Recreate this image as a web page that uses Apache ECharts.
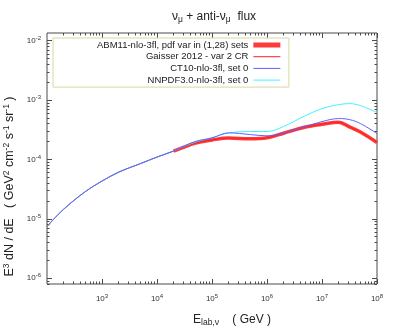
<!DOCTYPE html>
<html><head><meta charset="utf-8">
<script src="https://cdn.jsdelivr.net/npm/echarts@6/dist/echarts.min.js"></script>
<style>html,body{margin:0;padding:0;background:#fff}#c{width:395px;height:335px}</style>
</head><body><div id="c"></div>
<script>
// ---- data ----
const energyGeV = [1e2, 2e2, 5e2, 1e3, 2e3, 5e3, 1e4, 2e4, 5e4, 1e5, 2e5, 5e5, 1e6, 2e6, 5e6, 1e7, 2e7, 3.16e7, 5e7, 1e8];
const gaisser2012 = [7.4e-6, 1.445e-5, 2.88e-5, 4.32e-5, 6.10e-5, 8.51e-5, 1.096e-4, 1.38e-4, 1.89e-4, 2.13e-4, 2.30e-4, 2.23e-4, 2.32e-4, 2.77e-4, 3.52e-4, 3.92e-4, 4.24e-4, 3.55e-4, 2.90e-4, 1.93e-4];
const abm11 = [null, null, null, null, null, null, null, 1.38e-4, 1.89e-4, 2.13e-4, 2.30e-4, 2.23e-4, 2.32e-4, 2.77e-4, 3.52e-4, 3.92e-4, 4.24e-4, 3.55e-4, 2.90e-4, 1.93e-4];
const ct10 = [7.5e-6, 1.45e-5, 2.89e-5, 4.33e-5, 6.12e-5, 8.53e-5, 1.10e-4, 1.39e-4, 2.01e-4, 2.30e-4, 2.81e-4, 2.63e-4, 2.50e-4, 2.79e-4, 3.59e-4, 4.35e-4, 4.89e-4, 4.70e-4, 4.03e-4, 2.74e-4];
const nnpdf30 = [7.5e-6, 1.45e-5, 2.89e-5, 4.33e-5, 6.12e-5, 8.53e-5, 1.10e-4, 1.40e-4, 1.97e-4, 2.34e-4, 2.79e-4, 2.96e-4, 2.96e-4, 3.59e-4, 5.48e-4, 7.19e-4, 8.39e-4, 8.73e-4, 8.09e-4, 6.17e-4];
const seriesNames = ['ABM11-nlo-3fl, pdf var in (1,28) sets', 'Gaisser 2012 - var 2 CR', 'CT10-nlo-3fl, set 0', 'NNPDF3.0-nlo-3fl, set 0'];
const xTickValues = [1e3, 1e4, 1e5, 1e6, 1e7, 1e8];
const yTickValues = [1e-6, 1e-5, 1e-4, 1e-3, 1e-2];

// ---- helpers ----
const FONT = 'Liberation Sans, Arial, sans-serif';
function pairs(ys) { return energyGeV.map((e, i) => [e, ys[i]]); }
function minorTicks(k0, k1) { const out = []; for (let k = k0; k <= k1; k++) for (let m = 2; m <= 9; m++) out.push(m * Math.pow(10, k)); return out; }
const xMinor = minorTicks(2, 7);
const yMinor = minorTicks(-7, -2).filter(v => v >= 8e-7 && v <= 1.35e-2);
const tickColor = '#4a4a4a';
const labelRich = { b: { fontSize: 8, color: '#333', fontFamily: FONT, lineHeight: 11 }, s: { fontSize: 6, color: '#333', fontFamily: FONT, lineHeight: 6, verticalAlign: 'top' } };
function pow10Label(v) { return '{b|10}{s|' + Math.round(Math.log10(v)) + '}'; }

function xAx(pos, vals, len, labels) {
  return { type: 'log', logBase: 10, min: 100, max: 1e8, position: pos, gridIndex: 0,
    axisLine: { show: false }, splitLine: { show: false },
    axisTick: { show: true, inside: true, length: len, customValues: vals, lineStyle: { color: tickColor, width: 1 } },
    axisLabel: labels ? { show: true, customValues: xTickValues, formatter: pow10Label, rich: labelRich, margin: 9 } : { show: false } };
}
function yAx(pos, vals, len, labels) {
  return { type: 'log', logBase: 10, min: 8e-7, max: 1.35e-2, position: pos, gridIndex: 0,
    axisLine: { show: false }, splitLine: { show: false },
    axisTick: { show: true, inside: true, length: len, customValues: vals, lineStyle: { color: tickColor, width: 1 } },
    axisLabel: labels ? { show: true, customValues: yTickValues, formatter: pow10Label, rich: labelRich, margin: 6 } : { show: false } };
}

const xMain = xAx('bottom', xTickValues, 5, true);
xMain.name = '{b|E}{s|lab,ν}{b|    ( GeV )}';
xMain.nameLocation = 'middle';
xMain.nameGap = 29;
xMain.nameTextStyle = { padding: [0, 0, 0, 40], rich: { b: { fontSize: 12, color: '#222', fontFamily: FONT, lineHeight: 14 }, s: { fontSize: 8.5, color: '#222', fontFamily: FONT, lineHeight: 8, verticalAlign: 'bottom' } } };

const yMain = yAx('left', yTickValues, 5, true);
yMain.name = '{b|E}{p|3}{b| dN / dE   ( GeV}{p|2}{b| cm}{p|-2}{b| s}{p|-1}{b| sr}{p|-1}{b| )}';
yMain.nameLocation = 'middle';
yMain.nameGap = 27;
yMain.nameTextStyle = { padding: [0, 56, 0, 0], rich: { b: { fontSize: 12.5, color: '#222', fontFamily: FONT, lineHeight: 14 }, p: { fontSize: 8.5, color: '#222', fontFamily: FONT, lineHeight: 7, verticalAlign: 'top' } } };

const chart = echarts.init(document.getElementById('c'), null, { renderer: 'canvas' });
chart.setOption({
  animation: false,
  backgroundColor: '#fff',
  title: {
    text: '{t|ν}{u|μ}{t| + anti-ν}{u|μ}{t|  flux}',
    left: 209, top: 4, textAlign: 'center',
    textStyle: { fontWeight: 'normal', rich: { t: { fontSize: 12, fontWeight: 'normal', color: '#222', fontFamily: FONT, lineHeight: 15 }, u: { fontSize: 8.5, fontWeight: 'normal', color: '#222', fontFamily: FONT, lineHeight: 8, verticalAlign: 'bottom' } } }
  },
  grid: { left: 47, top: 33, right: 18, bottom: 51, containLabel: false, outerBoundsMode: 'none', show: true, borderColor: '#4a4a4a', borderWidth: 1, backgroundColor: 'transparent' },
  xAxis: [xMain, xAx('bottom', xMinor, 2.5, false), xAx('top', xTickValues, 5, false), xAx('top', xMinor, 2.5, false)],
  yAxis: [yMain, yAx('left', yMinor, 2.5, false), yAx('right', yTickValues, 5, false), yAx('right', yMinor, 2.5, false)],
  legend: {
    orient: 'vertical', left: 53, top: 38, align: 'right',
    itemWidth: 27, itemHeight: 11, itemGap: 0.7,
    padding: [1.5, 6, 1.5, 44],
    borderColor: '#d8d8a0', borderWidth: 1, backgroundColor: '#fff',
    selectedMode: false,
    textStyle: { fontSize: 9.5, color: '#222', fontFamily: FONT, lineHeight: 11 },
    itemStyle: { opacity: 0 },
    lineStyle: { width: 'inherit' },
    data: [
      { name: seriesNames[0], lineStyle: { width: 5 } },
      { name: seriesNames[1] },
      { name: seriesNames[2] },
      { name: seriesNames[3] }
    ]
  },
  series: [
    { name: seriesNames[0], type: 'line', data: pairs(abm11), symbol: 'none', smooth: 0.35, connectNulls: false, lineStyle: { color: '#ff3a3a', width: 3.5 }, itemStyle: { color: '#ff3a3a' } },
    { name: seriesNames[1], type: 'line', data: pairs(gaisser2012), symbol: 'none', smooth: 0.35, lineStyle: { color: '#ff2020', width: 1 }, itemStyle: { color: '#ff2020' } },
    { name: seriesNames[3], type: 'line', data: pairs(nnpdf30), symbol: 'none', smooth: 0.35, lineStyle: { color: '#40f4ff', width: 1 }, itemStyle: { color: '#40f4ff' } },
    { name: seriesNames[2], type: 'line', data: pairs(ct10), symbol: 'none', smooth: 0.35, lineStyle: { color: '#6060ff', width: 1 }, itemStyle: { color: '#6060ff' } }
  ]
});
</script></body></html>
